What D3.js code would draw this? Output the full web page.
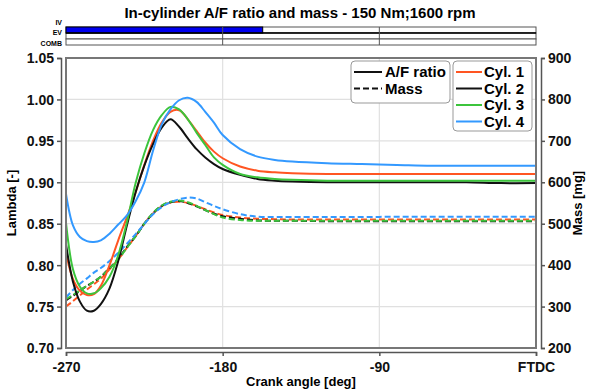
<!DOCTYPE html>
<html>
<head>
<meta charset="utf-8">
<script src="https://cdn.jsdelivr.net/npm/d3@7"></script>
<style>
  body { margin: 0; background: #fff; }
  svg { font-family: "Liberation Sans", Arial, sans-serif; font-weight: bold; }
</style>
</head>
<body>
<div id="chart"></div>
<script>
// crank angle grid shared by every series
const angles = [-270, -266, -262, -258, -254, -250, -245, -240, -235, -230, -225, -220, -215, -210, -205, -200,
  -195, -190, -185, -180, -170, -160, -150, -140, -120, -100, -80, -60, -40, -20, 0];

const cylinders = ["Cyl. 1", "Cyl. 2", "Cyl. 3", "Cyl. 4"];
const cylColors = ["#ff5522", "#111111", "#3cc43c", "#3399ff"];

// lambda [-]
const lambda1 = [0.815, 0.783, 0.769, 0.764, 0.765, 0.775, 0.800, 0.830, 0.858, 0.888, 0.921, 0.950, 0.972, 0.985, 0.987,
  0.976, 0.962, 0.948, 0.937, 0.929, 0.919, 0.914, 0.912, 0.911, 0.910, 0.910, 0.910, 0.910, 0.910, 0.910, 0.910];
const lambda2 = [0.825, 0.780, 0.756, 0.745, 0.745, 0.753, 0.772, 0.805, 0.848, 0.888, 0.920, 0.946, 0.966, 0.976, 0.967,
  0.953, 0.940, 0.930, 0.922, 0.916, 0.909, 0.904, 0.902, 0.901, 0.900, 0.900, 0.900, 0.900, 0.900, 0.899, 0.899];
const lambda3 = [0.851, 0.795, 0.774, 0.766, 0.766, 0.772, 0.786, 0.812, 0.852, 0.899, 0.935, 0.963, 0.981, 0.991, 0.988,
  0.976, 0.960, 0.945, 0.930, 0.921, 0.910, 0.906, 0.904, 0.903, 0.902, 0.902, 0.902, 0.902, 0.902, 0.902, 0.902];
const lambda4 = [0.886, 0.848, 0.834, 0.829, 0.828, 0.830, 0.838, 0.849, 0.860, 0.877, 0.900, 0.938, 0.970, 0.988, 0.999,
  1.002, 0.997, 0.985, 0.972, 0.957, 0.940, 0.931, 0.927, 0.925, 0.923, 0.922, 0.921, 0.920, 0.920, 0.920, 0.920];

// trapped mass [mg]
const mass1 = [300, 313, 327, 341, 354, 367, 390, 414, 442, 470, 500, 525, 542, 551, 553,
  550, 543, 535, 527, 521, 515, 512, 511, 510, 510, 510, 510, 510, 510, 510, 510];
const mass2 = [315, 326, 338, 350, 360, 372, 393, 415, 444, 470, 500, 525, 543, 552, 555,
  550, 542, 533, 524, 518, 512, 508, 507, 507, 506, 506, 506, 506, 506, 506, 506];
const mass3 = [318, 328, 339, 350, 360, 372, 392, 414, 442, 470, 500, 526, 544, 553, 556,
  552, 543, 533, 523, 515, 509, 507, 507, 507, 507, 507, 507, 507, 507, 507, 507];
const mass4 = [322, 340, 355, 368, 382, 393, 410, 430, 452, 475, 499, 523, 540, 552, 559,
  563, 561, 552, 543, 535, 523, 517, 516, 516, 516, 516, 517, 517, 517, 517, 517];

const lambdaTicks = [0.70, 0.75, 0.80, 0.85, 0.90, 0.95, 1.00, 1.05];
const massTicks = [200, 300, 400, 500, 600, 700, 800, 900];
const angleTicks = [-270, -180, -90, 0];

// valve events bar: intake valve open until this angle
const ivEnd = -157;
const valveRows = ["IV", "EV", "COMB"];

const width = 592;
const height = 392;
const margin = { top: 58, right: 56, bottom: 44, left: 66 };

const lambdaSeries = [lambda1, lambda2, lambda3, lambda4];
const massSeries = [mass1, mass2, mass3, mass4];

const svg = d3.select("#chart").append("svg")
  .attr("width", width)
  .attr("height", height);

const x = d3.scaleLinear()
  .domain([-270, 0])
  .range([margin.left, width - margin.right]);

const yL = d3.scaleLinear()
  .domain([0.70, 1.05])
  .range([height - margin.bottom, margin.top]);

const yM = d3.scaleLinear()
  .domain([200, 900])
  .range([height - margin.bottom, margin.top]);

const plotBottom = height - margin.bottom;
const plotRight = width - margin.right;

// title
svg.append("text")
  .attr("x", 300).attr("y", 18)
  .attr("text-anchor", "middle")
  .style("font-size", "15px")
  .text("In-cylinder A/F ratio and mass - 150 Nm;1600 rpm");

// valve bar
const rowH = 6;
const barTop = 27;
const bar = svg.append("g");
valveRows.forEach((r, i) => {
  bar.append("rect")
    .attr("x", margin.left).attr("y", barTop + i * rowH)
    .attr("width", plotRight - margin.left).attr("height", rowH)
    .attr("fill", "#fff").attr("stroke", "#555").attr("stroke-width", 1);
  bar.append("text")
    .attr("x", margin.left - 4)
    .attr("y", barTop + i * rowH + (i === 0 ? -2 : i === 1 ? 2 : 7))
    .attr("text-anchor", "end")
    .style("font-size", "7px")
    .text(r);
});
bar.append("rect")
  .attr("x", margin.left).attr("y", barTop)
  .attr("width", x(ivEnd) - margin.left).attr("height", rowH)
  .attr("fill", "#0000ee").attr("stroke", "#000").attr("stroke-width", 1);
bar.append("line")
  .attr("x1", margin.left).attr("x2", plotRight)
  .attr("y1", barTop + rowH).attr("y2", barTop + rowH)
  .attr("stroke", "#000").attr("stroke-width", 1.5);
bar.selectAll("line.v")
  .data([-180, -90])
  .join("line")
  .attr("class", "v")
  .attr("x1", d => x(d)).attr("x2", d => x(d))
  .attr("y1", barTop).attr("y2", barTop + rowH * 3)
  .attr("stroke", "#555");

// grid
svg.append("g")
  .selectAll("line")
  .data(lambdaTicks.slice(1, -1))
  .join("line")
  .attr("x1", margin.left).attr("x2", plotRight)
  .attr("y1", d => yL(d)).attr("y2", d => yL(d))
  .attr("stroke", "#e0e0e0").attr("stroke-width", 1.2);

svg.append("g")
  .selectAll("line")
  .data([-180, -90])
  .join("line")
  .attr("x1", d => x(d)).attr("x2", d => x(d))
  .attr("y1", margin.top).attr("y2", plotBottom)
  .attr("stroke", "#e0e0e0").attr("stroke-width", 1.2);

// curves
const clip = svg.append("clipPath").attr("id", "clip")
  .append("rect")
  .attr("x", margin.left).attr("y", margin.top)
  .attr("width", plotRight - margin.left).attr("height", plotBottom - margin.top);

const lineL = d3.line()
  .x((d, i) => x(angles[i]))
  .y(d => yL(d))
  .curve(d3.curveCatmullRom);

const lineM = d3.line()
  .x((d, i) => x(angles[i]))
  .y(d => yM(d))
  .curve(d3.curveCatmullRom);

const curves = svg.append("g").attr("clip-path", "url(#clip)");

massSeries.forEach((s, i) => {
  curves.append("path")
    .attr("d", lineM(s))
    .attr("fill", "none")
    .attr("stroke", cylColors[i])
    .attr("stroke-width", 2)
    .attr("stroke-dasharray", "6,3");
});

lambdaSeries.forEach((s, i) => {
  curves.append("path")
    .attr("d", lineL(s))
    .attr("fill", "none")
    .attr("stroke", cylColors[i])
    .attr("stroke-width", 2);
});

// frame
svg.append("rect")
  .attr("x", margin.left).attr("y", margin.top)
  .attr("width", plotRight - margin.left).attr("height", plotBottom - margin.top)
  .attr("fill", "none").attr("stroke", "#777").attr("stroke-width", 2);

// axes
const axL = svg.append("g")
  .attr("transform", `translate(${margin.left - 5},0)`)
  .call(d3.axisLeft(yL).tickValues(lambdaTicks).tickFormat(d3.format(".2f")).tickSize(4));

const axR = svg.append("g")
  .attr("transform", `translate(${plotRight + 5},0)`)
  .call(d3.axisRight(yM).tickValues(massTicks).tickSize(4));

const axB = svg.append("g")
  .attr("transform", `translate(0,${plotBottom + 4})`)
  .call(d3.axisBottom(x).tickValues(angleTicks).tickFormat(d => d === 0 ? "FTDC" : d).tickSize(4));

[axL, axR, axB].forEach(a => {
  a.selectAll("path, line").attr("stroke", "#555").attr("stroke-width", 1.5);
  a.selectAll("text").style("font-size", "14px").attr("fill", "#111")
    .style("font-family", "Liberation Sans, Arial, sans-serif").style("font-weight", "bold");
});
axL.selectAll("text").attr("dy", "0.35em");
axB.selectAll("text").attr("dy", "0.9em");

svg.append("text")
  .attr("x", x(-135)).attr("y", 386)
  .attr("text-anchor", "middle")
  .style("font-size", "13px")
  .text("Crank angle [deg]");

svg.append("text")
  .attr("transform", `translate(16,${yL(0.875)}) rotate(-90)`)
  .attr("text-anchor", "middle")
  .style("font-size", "13px")
  .text("Lambda [-]");

svg.append("text")
  .attr("transform", `translate(582,${yL(0.875)}) rotate(-90)`)
  .attr("text-anchor", "middle")
  .style("font-size", "13px")
  .text("Mass [mg]");

// legends
const leg1 = svg.append("g").attr("transform", "translate(351,61)");
leg1.append("rect")
  .attr("width", 99).attr("height", 42).attr("rx", 4)
  .attr("fill", "#fff").attr("stroke", "#999");
[["A/F ratio", null], ["Mass", "6,3"]].forEach(([t, dash], i) => {
  const yy = 11 + i * 16.5;
  leg1.append("line")
    .attr("x1", 3).attr("x2", 31).attr("y1", yy).attr("y2", yy)
    .attr("stroke", "#111").attr("stroke-width", 2)
    .attr("stroke-dasharray", dash);
  leg1.append("text")
    .attr("x", 34).attr("y", yy).attr("dy", "0.35em")
    .style("font-size", "15px")
    .text(t);
});

const leg2 = svg.append("g").attr("transform", "translate(453,61)");
leg2.append("rect")
  .attr("width", 79).attr("height", 70).attr("rx", 4)
  .attr("fill", "#fff").attr("stroke", "#999");
cylinders.forEach((c, i) => {
  const yy = 11 + i * 16.5;
  leg2.append("line")
    .attr("x1", 3).attr("x2", 29).attr("y1", yy).attr("y2", yy)
    .attr("stroke", cylColors[i]).attr("stroke-width", 2);
  leg2.append("text")
    .attr("x", 31).attr("y", yy).attr("dy", "0.35em")
    .style("font-size", "15px")
    .text(c);
});
</script>
</body>
</html>
